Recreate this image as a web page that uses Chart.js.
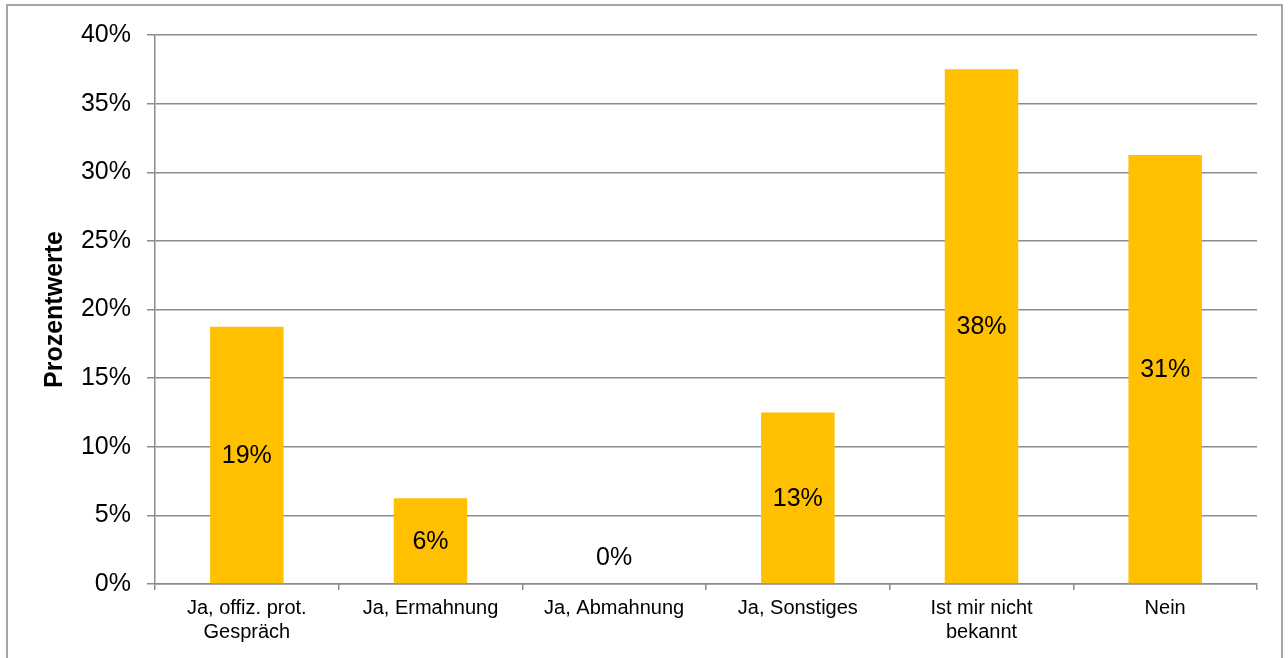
<!DOCTYPE html>
<html>
<head>
<meta charset="utf-8">
<script src="https://cdn.jsdelivr.net/npm/chart.js@4/dist/chart.umd.min.js"></script>
<style>
  html, body { margin: 0; padding: 0; background: #fff; }
  #wrap { position: relative; width: 1288px; height: 658px; overflow: hidden; }
  #frame { position: absolute; left: 6px; top: 4px; width: 1277px; height: 700px; border: 2px solid #a6a6a6; box-sizing: border-box; }
  canvas { position: absolute; left: 0; top: 0; }
</style>
</head>
<body>
<div id="wrap">
  <div id="frame"></div>
  <canvas id="chart" width="1288" height="658"></canvas>
</div>
<script>
// Chart data
const categories = [
  ['Ja, offiz. prot.', 'Gespräch'],
  'Ja, Ermahnung',
  'Ja, Abmahnung',
  'Ja, Sonstiges',
  ['Ist mir nicht', 'bekannt'],
  'Nein'
];
const percentValues = [18.75, 6.25, 0, 12.5, 37.5, 31.25];
const yTicks = [0, 5, 10, 15, 20, 25, 30, 35, 40];

const FONT = '"Liberation Sans", Arial, sans-serif';

// Value labels in the middle of each bar
const barLabels = {
  id: 'barLabels',
  afterDatasetsDraw(chart) {
    const ctx = chart.ctx;
    const meta = chart.getDatasetMeta(0);
    ctx.save();
    ctx.font = '25px ' + FONT;
    ctx.fillStyle = '#000';
    ctx.textAlign = 'center';
    ctx.textBaseline = 'middle';
    meta.data.forEach((bar, i) => {
      let y = (bar.y + bar.base) / 2;
      if (bar.base - y < 27) y = bar.base - 27;
      ctx.fillText(Math.round(percentValues[i]) + '%', bar.x, y + 1);
    });
    ctx.restore();
  }
};

new Chart(document.getElementById('chart'), {
  type: 'bar',
  data: {
    labels: categories,
    datasets: [{
      data: percentValues,
      backgroundColor: '#FFC000',
      barPercentage: 0.4,
      categoryPercentage: 1
    }]
  },
  options: {
    responsive: false,
    animation: false,
    layout: { padding: { left: 0, right: 31, top: 35, bottom: 0 } },
    plugins: { legend: { display: false }, tooltip: { enabled: false } },
    scales: {
      x: {
        grid: { display: true, drawOnChartArea: false, offset: true, tickLength: 6, color: '#8c8c8c', lineWidth: 1.5 },
        border: { color: '#8c8c8c', width: 1.5 },
        ticks: { color: '#000', font: { family: FONT, size: 20 }, maxRotation: 0, padding: 6 },
        afterFit(scale) { scale.height = 74; }
      },
      y: {
        min: 0,
        max: 40,
        afterBuildTicks(scale) { scale.ticks = yTicks.map(v => ({ value: v })); },
        grid: { color: '#8c8c8c', lineWidth: 1.5, tickLength: 8 },
        border: { color: '#8c8c8c', width: 1.5 },
        ticks: { color: '#000', font: { family: FONT, size: 25 }, padding: 16, callback: v => v + '%' },
        title: { display: true, text: 'Prozentwerte', color: '#000', font: { family: FONT, size: 25, weight: 'bold' }, padding: { top: 40, bottom: 0 } },
        afterFit(scale) { scale.width = 155; }
      }
    }
  },
  plugins: [barLabels]
});
</script>
</body>
</html>
